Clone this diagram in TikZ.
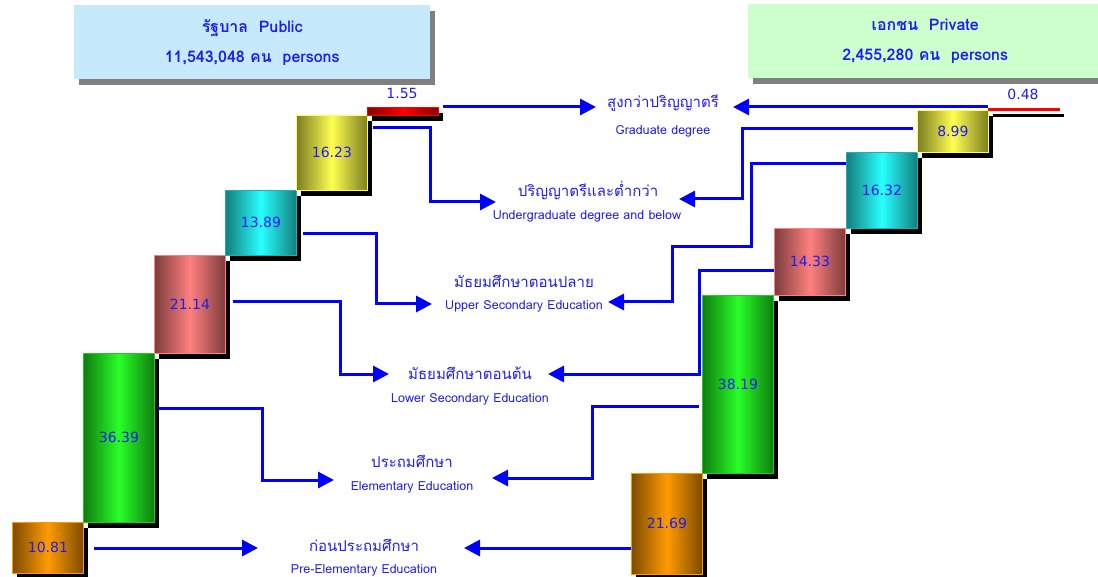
\documentclass[tikz,border=0pt]{standalone}
\usepackage{fontspec}
\setmainfont{Loma}[Script=Thai]
\newfontfamily\numfont{DejaVu Sans}
\usetikzlibrary{arrows.meta,shadows}

\definecolor{txtblue}{RGB}{30,30,240}
\definecolor{linkblue}{RGB}{0,0,255}
\definecolor{pubbg}{RGB}{198,234,251}
\definecolor{privbg}{RGB}{204,255,204}
\definecolor{yeldark}{RGB}{125,125,35}
\definecolor{yellite}{RGB}{255,255,80}
\definecolor{cyandark}{RGB}{20,125,125}
\definecolor{cyanlite}{RGB}{40,255,255}
\definecolor{pinkdark}{RGB}{125,60,60}
\definecolor{pinklite}{RGB}{255,128,128}
\definecolor{greendark}{RGB}{15,125,15}
\definecolor{greenlite}{RGB}{40,255,40}
\definecolor{orangedark}{RGB}{125,75,0}
\definecolor{orangelite}{RGB}{255,155,0}
\definecolor{reddark}{RGB}{130,0,0}

\tikzset{
  bar/.style={anchor=north west, inner sep=0pt, minimum width=71pt, line width=0.8pt,
    font=\numfont\fontsize{14}{14}\selectfont, text=txtblue,
    general shadow={fill=black, shadow xshift=5pt, shadow yshift=-6pt}},
  yellowbar/.style={bar, draw=yellite, left color=yeldark, right color=yeldark, middle color=yellite},
  cyanbar/.style={bar, draw=cyanlite!70!black, left color=cyandark, right color=cyandark, middle color=cyanlite},
  pinkbar/.style={bar, draw=pinklite, left color=pinkdark, right color=pinkdark, middle color=pinklite},
  greenbar/.style={bar, draw=greenlite!80!black, left color=greendark, right color=greendark, middle color=greenlite},
  orangebar/.style={bar, draw=orange!80!yellow, left color=orangedark, right color=orangedark, middle color=orangelite},
  redbar/.style={bar, draw=red, left color=reddark, right color=reddark, middle color=red},
  header/.style={anchor=north west, inner sep=0pt, align=center, text=txtblue,
    font=\bfseries\fontsize{16}{30}\selectfont,
    general shadow={fill=black!50, shadow xshift=5pt, shadow yshift=-6pt}},
  val/.style={text=txtblue, font=\numfont\fontsize{14}{14}\selectfont},
  thlbl/.style={text=txtblue, font=\fontsize{15}{15}\selectfont},
  enlbl/.style={text=txtblue, font=\fontsize{12.5}{12.5}\selectfont},
  flow/.style={linkblue, line width=3pt, -{Triangle[length=16pt,width=16pt]}}
}

\begin{document}
\begin{tikzpicture}[x=1pt,y=-1pt]
\useasboundingbox (0,0) rectangle (1098,577);

% headers
\node[header, fill=pubbg, minimum width=356pt, minimum height=74pt] at (74, 5) (hdrPub) {รัฐบาล~~Public\\11,543,048 คน~~persons};
\node[header, fill=privbg, minimum width=354pt, minimum height=74pt] at (748, 4) (hdrPriv) {เอกชน~~Private\\2,455,280 คน~~persons};

% public bars
\node[orangebar, minimum height=51pt] at (12, 522) (pPre) {10.81};
\node[greenbar, minimum height=169pt] at (83, 353) (pElem) {36.39};
\node[pinkbar, minimum height=98pt] at (154, 255) (pLower) {21.14};
\node[cyanbar, minimum height=65pt] at (225, 190) (pUpper) {13.89};
\node[yellowbar, minimum height=75pt] at (296, 115) (pUnder) {16.23};
\node[redbar, minimum height=8pt] at (367, 107) (pGrad) {};
\node[val] at (402, 93) (vGrad) {1.55};

% private bars
\node[orangebar, minimum height=101pt] at (631, 473) (qPre) {21.69};
\node[greenbar, minimum height=178pt] at (702, 295) (qElem) {38.19};
\node[pinkbar, minimum height=67pt] at (774, 228) (qLower) {14.33};
\node[cyanbar, minimum height=76pt] at (846, 152) (qUpper) {16.32};
\node[yellowbar, minimum height=42pt] at (917, 110) (qUnder) {8.99};
\node[redbar, minimum height=2.2pt, left color=red, right color=red, middle color=red] at (988, 108) (qGrad) {};
\node[val] at (1023, 94) (vGradQ) {0.48};

% level labels
\node[thlbl] at (663, 103) (gradT) {สูงกว่าปริญญาตรี};
\node[enlbl] at (663, 131) (gradE) {Graduate degree};
\node[thlbl] at (588, 190) (underT) {ปริญญาตรีและต่ำกว่า};
\node[enlbl] at (587, 216) (underE) {Undergraduate degree and below};
\node[thlbl] at (524, 281) (upperT) {มัธยมศึกษาตอนปลาย};
\node[enlbl] at (524, 306) (upperE) {Upper Secondary Education};
\node[thlbl] at (470, 373) (lowerT) {มัธยมศึกษาตอนต้น};
\node[enlbl] at (470, 399) (lowerE) {Lower Secondary Education};
\node[thlbl] at (412, 461) (elemT) {ประถมศึกษา};
\node[enlbl] at (412, 487) (elemE) {Elementary Education};
\node[thlbl] at (364, 545) (preT) {ก่อนประถมศึกษา};
\node[enlbl] at (364, 570) (preE) {Pre-Elementary Education};

% arrow ends and bends
\coordinate (gradL) at (596, 107);
\coordinate (underL) at (496, 202);
\coordinate (upperL) at (432, 304);
\coordinate (lowerL) at (389, 374);
\coordinate (elemL) at (334, 480);
\coordinate (preL) at (258, 548);
\coordinate (gradR) at (733, 107);
\coordinate (underR) at (679, 199);
\coordinate (upperR) at (608, 302);
\coordinate (lowerR) at (548, 374);
\coordinate (elemR) at (492, 478);
\coordinate (preR) at (464, 548);
\coordinate (kUnderL) at (430, 202);
\coordinate (kUpperL) at (376, 304);
\coordinate (kLowerL) at (340, 374);
\coordinate (kElemL) at (262, 480);
\coordinate (kUnderR) at (742, 199);
\coordinate (kUpperR1) at (751, 247);
\coordinate (kUpperR2) at (672, 302);
\coordinate (kLowerR) at (699, 374);
\coordinate (kElemR) at (592, 478);

% public links
\draw[flow] ([xshift=4pt]pGrad.north east) -- (gradL);
\draw[flow] ([xshift=5pt,yshift=-13pt]pUnder.north east) -| (kUnderL) -- (underL);
\draw[flow] ([xshift=6pt,yshift=-44pt]pUpper.north east) -| (kUpperL) -- (upperL);
\draw[flow] ([xshift=7pt,yshift=-47pt]pLower.north east) -| (kLowerL) -- (lowerL);
\draw[flow] ([xshift=3pt,yshift=-55pt]pElem.north east) -| (kElemL) -- (elemL);
\draw[flow] ([xshift=10pt,yshift=-26pt]pPre.north east) -- (preL);

% private links
\draw[flow] ([yshift=1pt]qGrad.north west) -- (gradR);
\draw[flow] ([xshift=-4pt,yshift=-19pt]qUnder.north west) -| (kUnderR) -- (underR);
\draw[flow] ([yshift=-12pt]qUpper.north west) -| (kUpperR1) -| (kUpperR2) -- (upperR);
\draw[flow] ([yshift=-43pt]qLower.north west) -| (kLowerR) -- (lowerR);
\draw[flow] ([xshift=-3pt,yshift=-111pt]qElem.north west) -| (kElemR) -- (elemR);
\draw[flow] ([yshift=-75pt]qPre.north west) -- (preR);
\end{tikzpicture}
\end{document}
